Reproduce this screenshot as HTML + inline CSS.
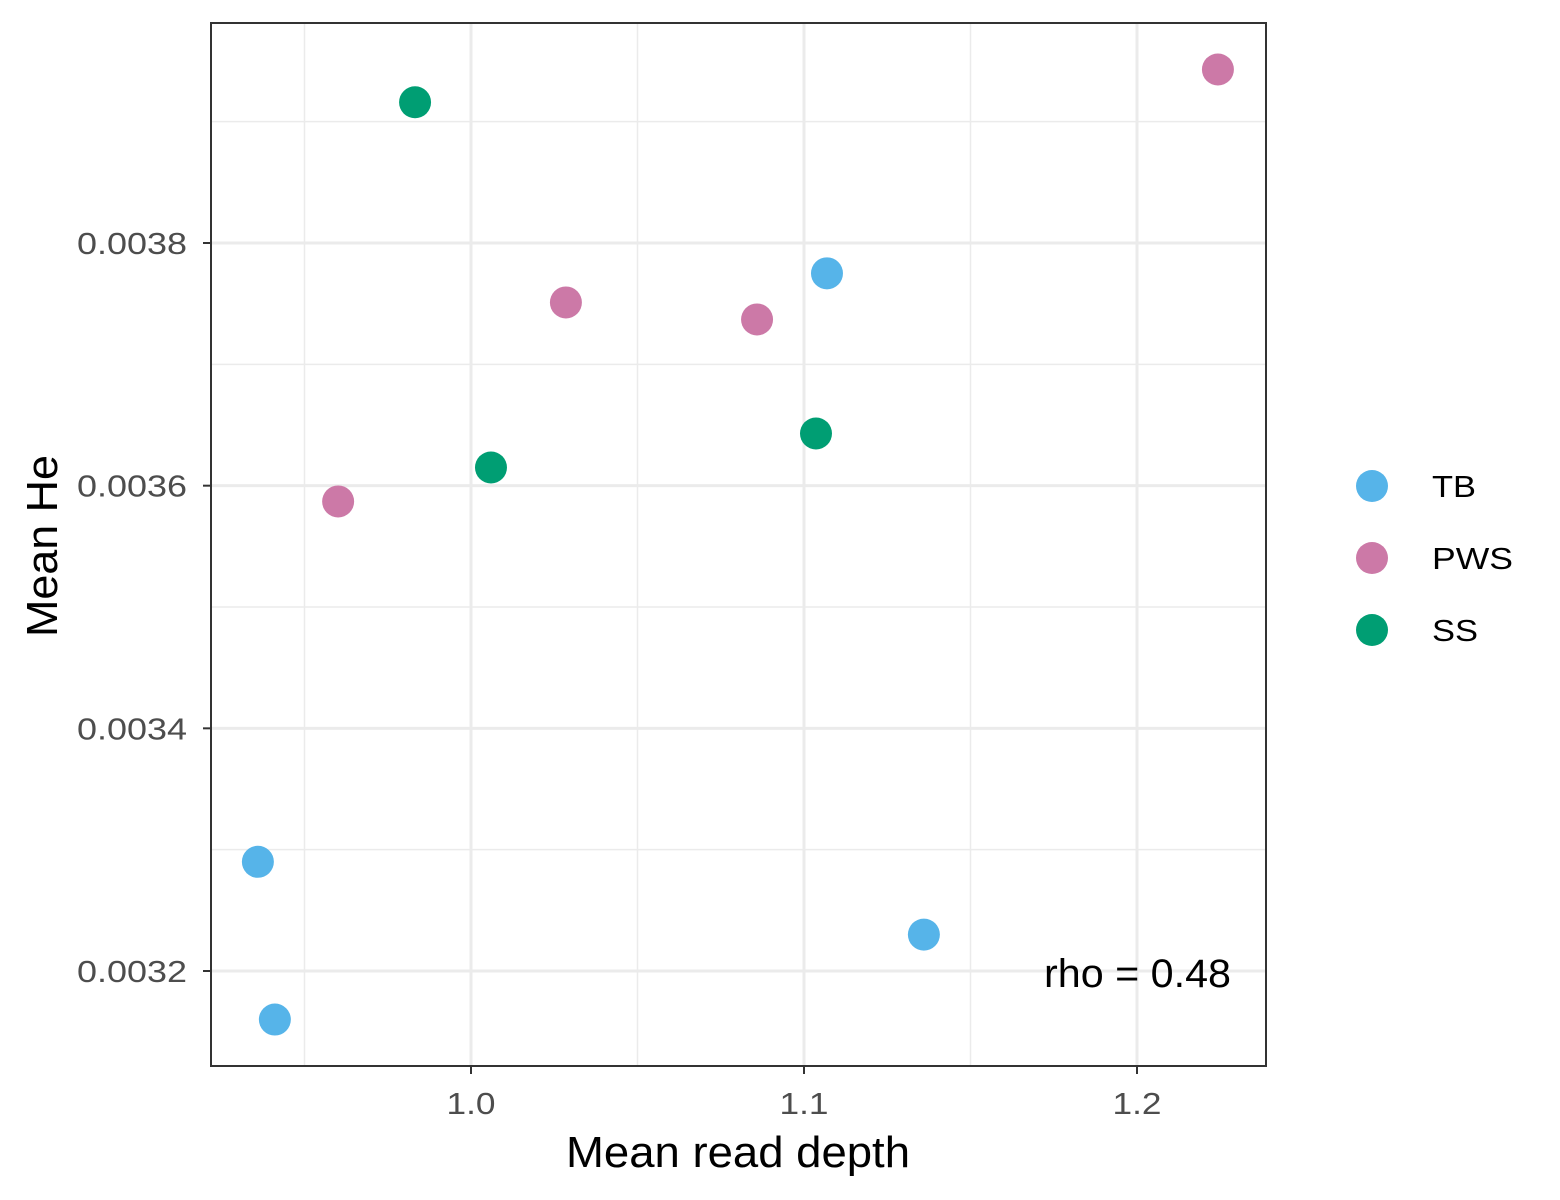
<!DOCTYPE html>
<html><head><meta charset="utf-8"><style>body{margin:0;background:#fff}svg{display:block;font-family:"Liberation Sans",sans-serif}</style></head>
<body>
<svg id="chart" width="1560" height="1200" xmlns="http://www.w3.org/2000/svg"></svg>
<script>
const groups = ["TB","PWS","SS"];
const colors = ["#56B4E9","#CC79A7","#009E73"];
const xTB = [1.1069,0.936,0.9411,1.136];
const yTB = [0.003775,0.003290,0.003160,0.003230];
const xPWS = [1.2243,1.0285,1.0859,0.9601];
const yPWS = [0.003943,0.003751,0.003737,0.003587];
const xSS = [0.9832,1.0060,1.1036];
const ySS = [0.003916,0.003615,0.003643];
const xTicks = [1.0,1.1,1.2];
const xTickLabels = ["1.0","1.1","1.2"];
const xMinor = [0.95,1.05,1.15];
const yTicks = [0.0032,0.0034,0.0036,0.0038];
const yTickLabels = ["0.0032","0.0034","0.0036","0.0038"];
const yMinor = [0.0033,0.0035,0.0037,0.0039];

const L=211,R=1266,T=23,B=1066;
const sx=v=>471+(v-1.0)*3330;
const sy=v=>243-(v-0.0038)/0.0002*242.67;
const svg=document.getElementById('chart');
const NS="http://www.w3.org/2000/svg";
function mk(tag,attrs,parent){const e=document.createElementNS(NS,tag);for(const k in attrs)e.setAttribute(k,attrs[k]);(parent||svg).appendChild(e);return e;}

const grid=mk('g',{});


xMinor.forEach(v=>mk('line',{x1:sx(v),x2:sx(v),y1:T,y2:B,stroke:'#ebebeb','stroke-width':1.5},grid));
yMinor.forEach(v=>mk('line',{x1:L,x2:R,y1:sy(v),y2:sy(v),stroke:'#ebebeb','stroke-width':1.5},grid));
xTicks.forEach(v=>mk('line',{x1:sx(v),x2:sx(v),y1:T,y2:B,stroke:'#ebebeb','stroke-width':3},grid));
yTicks.forEach(v=>mk('line',{x1:L,x2:R,y1:sy(v),y2:sy(v),stroke:'#ebebeb','stroke-width':3},grid));

const xa=mk('g',{});


xTicks.forEach((v,i)=>{mk('line',{x1:sx(v),x2:sx(v),y1:B,y2:B+8,stroke:'#333','stroke-width':2},xa);
 const t=mk('text',{x:sx(v),y:B+48,'text-anchor':'middle','font-size':31,fill:'#4d4d4d',textLength:49,lengthAdjust:'spacingAndGlyphs'},xa);t.textContent=xTickLabels[i];});
const ya=mk('g',{});


yTicks.forEach((v,i)=>{mk('line',{x1:L-8,x2:L,y1:sy(v),y2:sy(v),stroke:'#333','stroke-width':2},ya);
 const t=mk('text',{x:L-24,y:sy(v)+11,'text-anchor':'end','font-size':31,fill:'#4d4d4d',textLength:110,lengthAdjust:'spacingAndGlyphs'},ya);t.textContent=yTickLabels[i];});

const pts=mk('g',{});


[[xTB,yTB],[xPWS,yPWS],[xSS,ySS]].forEach((s,g)=>{s[0].forEach((x,i)=>{
 const c=mk('circle',{cx:sx(x),cy:sy(s[1][i]),r:16,fill:colors[g]},pts);
 
 });});

const fr=mk('rect',{x:L,y:T,width:R-L,height:B-T,fill:'none',stroke:'#333','stroke-width':2});



const ann=mk('text',{x:1231,y:987,'text-anchor':'end','font-size':40,fill:'#000',textLength:187,lengthAdjust:'spacingAndGlyphs'});
ann.textContent='rho = 0.48';



const xt=mk('text',{x:738,y:1167,'text-anchor':'middle','font-size':44,fill:'#000',textLength:344,lengthAdjust:'spacingAndGlyphs'});
xt.textContent='Mean read depth';


const yt=mk('text',{x:57,y:546,'text-anchor':'middle','font-size':44,fill:'#000',textLength:182,lengthAdjust:'spacingAndGlyphs',transform:'rotate(-90 57 546)'});
yt.textContent='Mean He';



const lg=mk('g',{});


const lw=[44,81,46];
groups.forEach((g,i)=>{const y=486+i*72;
 const e=mk('g',{},lg);
 
 
 mk('circle',{cx:1372,cy:y,r:16,fill:colors[i]},e);
 const t=mk('text',{x:1432,y:y+11,'font-size':31,fill:'#000',textLength:lw[i],lengthAdjust:'spacingAndGlyphs'},e);t.textContent=g;});
</script>
</body></html>
